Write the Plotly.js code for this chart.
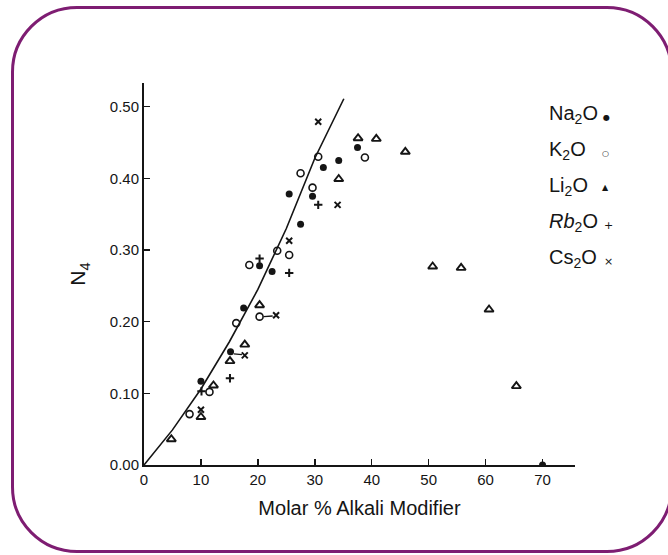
<!DOCTYPE html>
<html><head><meta charset="utf-8">
<script src="https://cdn.plot.ly/plotly-3.0.1.min.js"></script>
<style>
html,body{margin:0;padding:0;background:#fff;overflow:hidden;}
#chart{width:668px;height:555px;position:absolute;left:0;top:0;}
#frame{position:absolute;left:11px;top:6px;width:656px;height:541px;border:3px solid #7e1d72;border-radius:66px;pointer-events:none;}
</style></head>
<body>
<div id="chart"></div>
<div id="frame"></div>
<script>
// Data
const naX = [10.0, 15.2, 17.5, 20.3, 22.5, 25.5, 27.5, 29.6, 31.5, 34.2, 37.5, 70.0];
const naY = [0.117, 0.158, 0.219, 0.278, 0.270, 0.378, 0.336, 0.375, 0.415, 0.425, 0.443, 0.0];

const kX = [8.0, 11.5, 16.2, 18.5, 20.3, 23.4, 25.5, 27.5, 29.6, 30.6, 38.8];
const kY = [0.071, 0.102, 0.198, 0.279, 0.207, 0.299, 0.293, 0.407, 0.387, 0.430, 0.429];

const liX = [4.8, 10.0, 12.2, 15.1, 17.7, 20.3, 34.2, 37.6, 40.8, 45.9, 50.7, 55.7, 60.6, 65.4];
const liY = [0.036, 0.067, 0.111, 0.145, 0.168, 0.223, 0.399, 0.456, 0.455, 0.437, 0.277, 0.275, 0.217, 0.110];

const rbX = [10.1, 15.1, 20.3, 25.5, 30.6];
const rbY = [0.103, 0.121, 0.288, 0.268, 0.363];

const csX = [10.0, 17.7, 23.2, 25.5, 30.6, 34.0];
const csY = [0.077, 0.153, 0.209, 0.313, 0.479, 0.363];

// hand-drawn trend line
const fitX = [0, 5, 10, 15, 20, 25, 30, 35.1];
const fitY = [0, 0.049, 0.106, 0.172, 0.245, 0.33, 0.428, 0.511];

// short connector dashes between paired points
const linkX = [15.8, 17.2, null, 21.0, 22.6];
const linkY = [0.155, 0.154, null, 0.207, 0.208];

const legendNames = ['Na<sub>2</sub>O', 'K<sub>2</sub>O', 'Li<sub>2</sub>O', '<i>Rb</i><sub>2</sub>O', 'Cs<sub>2</sub>O'];
const legendSymbols = ['●', '○', '▲', '+', '×'];

const ink = '#151515';
const traces = [
  {x: fitX, y: fitY, mode: 'lines', line: {color: ink, width: 1.6}, hoverinfo: 'skip'},
  {x: linkX, y: linkY, mode: 'lines', line: {color: ink, width: 1.4}, hoverinfo: 'skip'},
  {x: naX, y: naY, mode: 'markers', name: 'Na2O', marker: {symbol: 'circle', size: 7, color: ink}},
  {x: kX, y: kY, mode: 'markers', name: 'K2O', marker: {symbol: 'circle-open', size: 7, color: ink, line: {width: 1.6}}},
  {x: liX, y: liY, mode: 'markers', name: 'Li2O', marker: {symbol: 'triangle-up-open', size: 8, color: ink, line: {width: 1.9}}},
  {x: rbX, y: rbY, mode: 'markers', name: 'Rb2O', marker: {symbol: 'cross-thin-open', size: 6, color: ink, line: {width: 2}}},
  {x: csX, y: csY, mode: 'markers', name: 'Cs2O', marker: {symbol: 'x-thin-open', size: 6, color: ink, line: {width: 2}}}
];

const legendY = [114, 150, 186, 222, 258];
const symY = [117, 153, 188, 225, 261];
const symX = [606, 605, 605, 608, 608];
const px = v => (v - 144) / 431;
const py = v => 1 - (v - 83) / 382;
const annotations = [];
legendNames.forEach((n, i) => {
  annotations.push({xref: 'paper', yref: 'paper', x: px(547), y: py(legendY[i]),
    xanchor: 'left', yanchor: 'middle', showarrow: false, text: n,
    font: {family: 'Liberation Sans, Arial, sans-serif', size: 20, color: ink}});
  annotations.push({xref: 'paper', yref: 'paper', x: px(symX[i]), y: py(symY[i]),
    xanchor: 'center', yanchor: 'middle', showarrow: false, text: legendSymbols[i],
    font: {family: 'DejaVu Sans, sans-serif', size: i >= 3 ? 11 : 8, color: ink}});
});

const layout = {
  width: 668, height: 555,
  margin: {l: 144, r: 93, t: 83, b: 90},
  paper_bgcolor: '#fff', plot_bgcolor: '#fff',
  showlegend: false,
  font: {family: 'Liberation Sans, Arial, sans-serif', color: ink},
  xaxis: {
    range: [0, 75.7], showgrid: false, zeroline: false,
    showline: true, linecolor: ink, linewidth: 2,
    ticks: 'inside', ticklen: 6, tickwidth: 1.5, tickcolor: ink,
    tickvals: [0, 10, 20, 30, 40, 50, 60, 70], ticktext: ['0', '10', '20', '30', '40', '50', '60', '70'],
    tickfont: {size: 15, color: ink},
    title: {text: 'Molar % Alkali Modifier', font: {size: 20, color: ink}, standoff: 14}
  },
  yaxis: {
    range: [0, 0.533], showgrid: false, zeroline: false,
    showline: true, linecolor: ink, linewidth: 2,
    ticks: 'inside', ticklen: 6, tickwidth: 1.5, tickcolor: ink,
    tickvals: [0, 0.1, 0.2, 0.3, 0.4, 0.5], tickformat: '.2f',
    tickfont: {size: 15, color: ink},
    title: {text: 'N<sub>4</sub>', font: {size: 21, color: ink}, standoff: 18}
  },
  annotations: annotations
};

Plotly.newPlot('chart', traces, layout, {displayModeBar: false, staticPlot: true});
</script>
</body></html>
